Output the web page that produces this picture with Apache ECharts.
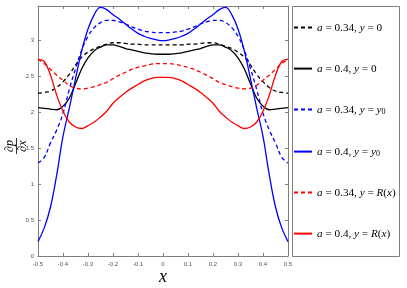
<!DOCTYPE html>
<html><head><meta charset="utf-8">
<script src="https://cdn.jsdelivr.net/npm/echarts@6/dist/echarts.min.js"></script>
<style>html,body{margin:0;padding:0;background:#fff}#c{width:407px;height:288px}</style>
</head><body><div id="c"></div>
<script>
var xs = [-0.5,-0.475,-0.45,-0.425,-0.4,-0.375,-0.35,-0.325,-0.3,-0.275,-0.25,-0.225,-0.2,-0.175,-0.15,-0.125,-0.1,-0.075,-0.05,-0.025,0,
          0.025,0.05,0.075,0.1,0.125,0.15,0.175,0.2,0.225,0.25,0.275,0.3,0.325,0.35,0.375,0.4,0.425,0.45,0.475,0.5];
var k34 = [2.26,2.27,2.29,2.34,2.42,2.52,2.65,2.76,2.83,2.88,2.91,2.94,2.96,2.96,2.95,2.94,2.94,2.93,2.93,2.93,2.93,
           2.93,2.93,2.93,2.94,2.94,2.95,2.96,2.96,2.94,2.91,2.88,2.83,2.76,2.65,2.52,2.42,2.34,2.29,2.27,2.26];
var k4  = [2.06,2.05,2.04,2.03,2.08,2.19,2.39,2.60,2.75,2.85,2.90,2.93,2.93,2.91,2.88,2.86,2.84,2.82,2.81,2.80,2.80,
           2.80,2.81,2.82,2.84,2.86,2.88,2.91,2.93,2.93,2.90,2.85,2.75,2.60,2.39,2.19,2.08,2.03,2.04,2.05,2.06];
var b34 = [1.29,1.37,1.57,1.75,1.98,2.31,2.60,2.86,3.05,3.17,3.24,3.27,3.27,3.25,3.22,3.18,3.15,3.12,3.11,3.10,3.10,
           3.10,3.11,3.12,3.15,3.18,3.22,3.25,3.27,3.27,3.24,3.17,3.05,2.86,2.60,2.31,1.98,1.75,1.57,1.37,1.29];
var b4  = [0.20,0.39,0.68,1.13,1.66,2.05,2.46,2.85,3.15,3.35,3.45,3.42,3.35,3.29,3.22,3.15,3.09,3.05,3.02,3.00,2.99,
           3.00,3.02,3.05,3.09,3.15,3.22,3.29,3.35,3.42,3.45,3.35,3.15,2.85,2.46,2.05,1.66,1.13,0.68,0.39,0.20];
var r34 = [2.73,2.67,2.59,2.51,2.44,2.37,2.33,2.32,2.33,2.35,2.38,2.41,2.46,2.51,2.55,2.59,2.62,2.64,2.66,2.67,2.67,
           2.67,2.66,2.64,2.62,2.59,2.55,2.51,2.46,2.41,2.38,2.35,2.33,2.32,2.33,2.37,2.44,2.51,2.59,2.67,2.73];
var r4  = [2.73,2.70,2.51,2.23,2.01,1.86,1.79,1.77,1.81,1.86,1.93,2.01,2.12,2.20,2.27,2.33,2.38,2.43,2.46,2.48,2.48,
           2.48,2.46,2.43,2.38,2.33,2.27,2.20,2.12,2.01,1.93,1.86,1.81,1.77,1.79,1.86,2.01,2.23,2.51,2.70,2.73];
var names = ['{i|a} = 0.34, {i|y} = 0','{i|a} = 0.4, {i|y} = 0','{i|a} = 0.34, {i|y} = {i|y}{s|0}',
             '{i|a} = 0.4, {i|y} = {i|y}{s|0}','{i|a} = 0.34, {i|y} = {i|R}({i|x})','{i|a} = 0.4, {i|y} = {i|R}({i|x})'];
var xTicks = [-0.5,-0.4,-0.3,-0.2,-0.1,0,0.1,0.2,0.3,0.4,0.5];
var yTicks = [0,0.5,1,1.5,2,2.5,3];

function pairs(v){ return xs.map(function(x,i){return [x,v[i]];}); }
var serif = '"Liberation Serif","DejaVu Serif",serif';
var defs = [
  {d:k34,c:'#000000',t:'dashed'},{d:k4,c:'#000000',t:'solid'},
  {d:b34,c:'#0000ff',t:'dashed'},{d:b4,c:'#0000ff',t:'solid'},
  {d:r34,c:'#ff0000',t:'dashed'},{d:r4,c:'#ff0000',t:'solid'}
];
var series = defs.map(function(s,i){
  return {name:names[i],type:'line',data:pairs(s.d),smooth:0.4,symbol:'none',silent:true,
    lineStyle:{color:s.c,width:1.3,type:s.t==='dashed'?[4,3]:'solid'},itemStyle:{color:s.c}};
});
var legendTops = [29,70,111,153,194,235];
var legends = names.map(function(n,i){
  return {data:[n],left:293,top:legendTops[i]-7,itemWidth:18,itemHeight:14,padding:0,itemGap:0,
    selectedMode:false,itemStyle:{color:'rgba(0,0,0,0)',borderWidth:0},
    textStyle:{fontFamily:serif,fontSize:11.2,color:'#000',
      rich:{i:{fontStyle:'italic',fontFamily:serif,fontSize:11.2},s:{fontFamily:serif,fontSize:8,verticalAlign:'bottom',padding:[5,0,0,0]}}}};
});
var axisLine = {onZero:false,lineStyle:{color:'#7f7f7f',width:1}};
var tick = {show:true,inside:true,length:3,lineStyle:{color:'#7f7f7f'}};
var labelStyle = {fontSize:6,color:'#555',fontFamily:'"Liberation Sans",Arial,sans-serif'};
var chart = echarts.init(document.getElementById('c'));
chart.setOption({
  animation:false,
  grid:{left:38,right:119,top:6,bottom:32,containLabel:false},
  xAxis:[{type:'value',min:-0.5,max:0.5,interval:0.1,axisLine:axisLine,axisTick:tick,splitLine:{show:false},
      axisLabel:Object.assign({margin:5,formatter:function(v){var r=Math.round(v*10)/10;return xTicks.indexOf(r)>=0?String(r):'';}},labelStyle)},
    {type:'value',position:'top',min:-0.5,max:0.5,interval:0.1,axisLine:axisLine,axisTick:tick,axisLabel:{show:false},splitLine:{show:false}}],
  yAxis:[{type:'value',position:'left',min:0,max:3.47,interval:0.5,axisLine:Object.assign({show:true},axisLine),axisTick:tick,splitLine:{show:false},
      axisLabel:Object.assign({margin:4,showMaxLabel:false,formatter:function(v){var r=Math.round(v*10)/10;return yTicks.indexOf(r)>=0?String(r):'';}},labelStyle)},
    {type:'value',position:'right',min:0,max:3.47,interval:0.5,axisLine:Object.assign({show:true},axisLine),axisTick:tick,axisLabel:{show:false},splitLine:{show:false}}],
  legend:legends,
  series:series,
  graphic:[
    {type:'rect',shape:{x:292.5,y:6.5,width:107,height:250},style:{fill:'none',stroke:'#7f7f7f',lineWidth:1},z:-1},
    {type:'text',x:163,y:277,style:{text:'x',font:'italic 18px '+serif,fill:'#000',textAlign:'center',textVerticalAlign:'middle'}},
    {type:'text',x:10,y:146,rotation:Math.PI/2,style:{text:'∂p',font:'italic 12px '+serif,fill:'#000',textAlign:'center',textVerticalAlign:'middle'}},
    {type:'line',shape:{x1:16.5,y1:138,x2:16.5,y2:154},style:{stroke:'#000',lineWidth:0.8}},
    {type:'text',x:23,y:146,rotation:Math.PI/2,style:{text:'∂x',font:'italic 12px '+serif,fill:'#000',textAlign:'center',textVerticalAlign:'middle'}}
  ]
});
</script></body></html>
